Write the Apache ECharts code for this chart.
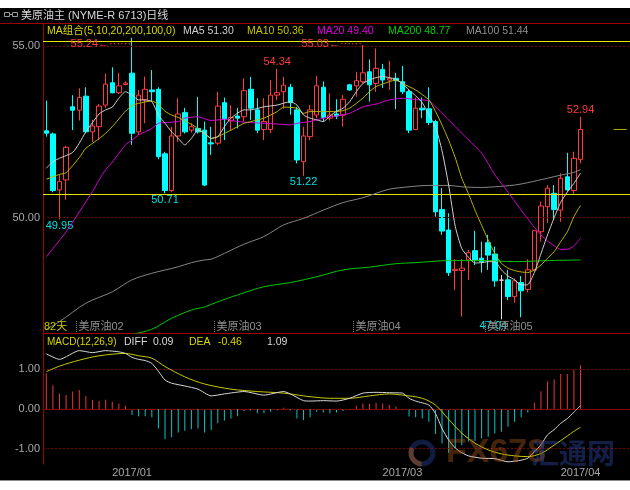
<!DOCTYPE html>
<html><head><meta charset="utf-8">
<script src="https://cdn.jsdelivr.net/npm/echarts@6/dist/echarts.min.js"></script>
<style>html,body{margin:0;padding:0;background:#fff;}#c{width:630px;height:490px;}</style>
</head><body><div id="c"></div>
<script>
// ---------- data ----------
const opens  = [52.53,52.44,50.81,51.10,53.23,53.13,53.54,52.50,52.65,53.28,
                53.93,53.64,53.88,54.21,52.50,53.43,53.72,53.74,51.86,50.79,
                52.38,53.06,52.55,52.60,52.55,52.18,52.17,53.35,52.82,52.96,
                52.94,53.74,53.14,52.57,52.57,53.57,53.67,53.80,53.14,51.63,
                52.36,52.99,53.80,52.90,53.02,52.99,53.87,53.84,53.96,54.25,
                53.91,54.32,54.01,54.06,53.96,53.67,52.57,53.19,53.17,52.80,
                50.24,49.64,48.46,48.46,48.77,49.04,48.82,49.27,48.94,48.18,
                48.19,47.70,48.11,47.91,48.48,49.59,50.32,50.71,50.22,51.19,
                50.79,51.70];
const closes = [52.46,50.79,51.05,52.05,53.13,53.50,52.50,52.67,53.25,53.89,
                53.64,53.84,53.92,52.46,53.57,53.74,53.67,51.78,50.79,52.38,
                53.02,52.50,52.65,52.50,50.95,52.15,53.25,52.87,52.92,52.90,
                53.70,53.19,52.55,52.80,53.57,53.64,53.86,53.35,51.68,52.38,
                53.14,53.84,52.92,52.99,52.96,53.45,53.72,53.99,54.22,53.87,
                54.35,54.01,54.06,53.99,53.67,52.55,53.19,53.14,52.77,50.17,
                49.61,48.40,48.50,48.53,48.98,48.77,48.72,48.91,48.16,48.18,
                47.70,48.16,47.87,48.48,49.62,50.34,50.86,50.24,51.15,50.81,
                51.73,52.57];
const lows   = [52.36,50.74,49.95,50.52,52.55,52.83,52.46,52.21,52.26,53.20,
                53.62,53.60,53.85,52.12,52.41,52.75,53.38,51.70,50.71,50.75,
                52.21,52.45,52.48,52.45,50.92,51.83,52.12,52.26,52.55,52.60,
                52.80,52.85,52.46,52.26,52.46,53.43,53.17,53.00,51.58,51.22,
                52.26,52.90,52.80,52.83,52.87,52.65,53.70,53.52,53.91,53.38,
                53.67,53.78,53.72,53.16,53.60,52.46,52.55,52.90,52.70,50.03,
                49.50,48.30,47.89,47.12,48.19,48.62,48.40,48.48,47.99,47.04,
                47.60,47.52,47.10,47.82,48.46,49.30,49.84,49.93,49.88,50.78,
                50.70,51.58];
const highs  = [53.41,52.48,51.25,52.09,53.57,53.77,53.80,52.85,53.31,54.20,
                54.38,54.22,53.97,55.24,53.72,54.11,54.30,53.80,51.92,52.65,
                53.48,53.20,52.75,53.52,52.80,52.65,53.67,53.50,53.28,53.20,
                54.06,54.10,53.48,53.48,54.01,54.34,54.10,53.90,53.23,52.65,
                53.28,54.13,53.97,53.62,53.45,53.57,53.90,54.25,55.03,54.61,
                54.93,54.48,54.57,54.22,54.42,53.72,53.50,53.50,53.80,52.85,
                50.86,50.13,48.79,48.79,49.06,49.62,49.30,49.50,49.16,48.33,
                48.48,48.23,48.30,48.79,49.64,50.47,50.95,50.95,51.29,51.89,
                51.92,52.94];

// moving averages as [candle index, value]
const ma5Pts = [[0,51.44],[1,51.63],[2,51.73],[4,51.90],[5,52.17],[6,52.50],[8,53.02],[9,53.14],[10,53.22],[11,53.48],[12,53.67],[13,53.57],[14,53.43],[15,53.43],[16,53.38],[17,52.99],[18,52.75],[19,52.50],[20,52.31],[21,52.12],[22,52.31],[23,52.55],[24,52.46],[25,52.31],[26,52.36],[27,52.65],[28,52.90],[30,53.14],[31,53.14],[33,53.23],[35,53.28],[37,53.38],[38,53.28],[39,52.99],[40,52.90],[41,52.85],[42,52.80],[43,52.96],[44,53.10],[45,53.19],[46,53.38],[47,53.67],[48,53.91],[49,54.01],[50,54.08],[51,54.11],[52,54.08],[53,54.03],[54,53.91],[55,53.72],[56,53.55],[57,53.35],[58,53.00],[59,52.65],[60,51.95],[61,50.95],[62,49.75],[63,49.10],[64,48.85],[65,48.68],[66,48.69],[67,48.72],[68,48.72],[69,48.48],[70,48.30],[71,48.19],[72,48.04],[73,48.05],[74,48.40],[75,48.95],[76,49.50],[77,50.00],[78,50.45],[79,50.75],[80,51.00],[81,51.30]];
const ma10Pts = [[0,51.12],[2,51.26],[3,51.31],[5,51.75],[6,52.02],[8,52.30],[9,52.46],[10,52.65],[12,53.10],[13,53.27],[14,53.33],[16,53.40],[17,53.30],[18,53.10],[19,52.99],[20,52.92],[22,52.72],[23,52.60],[24,52.45],[25,52.31],[26,52.36],[28,52.55],[30,52.75],[31,52.80],[33,52.90],[35,53.09],[36,53.22],[38,53.19],[39,53.04],[40,53.09],[42,53.09],[44,53.09],[45,53.12],[46,53.19],[48,53.48],[49,53.67],[50,53.82],[52,53.96],[53,54.01],[54,53.91],[56,53.72],[58,53.43],[59,53.10],[60,52.70],[61,52.26],[62,51.75],[63,51.15],[64,50.70],[65,50.22],[66,49.78],[67,49.35],[68,48.96],[69,48.67],[70,48.53],[71,48.46],[72,48.42],[73,48.40],[74,48.48],[75,48.62],[76,48.82],[77,49.01],[78,49.30],[79,49.59],[80,50.03],[81,50.36]];
const ma20Pts = [[0,48.86],[3,49.59],[7,50.76],[8,51.10],[9,51.40],[10,51.62],[12,52.12],[13,52.26],[14,52.41],[16,52.60],[17,52.75],[18,52.77],[20,52.80],[21,52.90],[23,52.94],[25,52.83],[27,52.87],[29,52.80],[31,52.77],[33,52.75],[35,52.73],[37,52.70],[38,52.75],[40,52.80],[42,52.90],[44,52.96],[46,53.04],[48,53.23],[50,53.31],[52,53.43],[54,53.48],[56,53.44],[58,53.40],[60,53.04],[61,52.85],[63,52.46],[64,52.27],[66,51.88],[67,51.58],[68,51.25],[69,51.00],[70,50.74],[71,50.48],[72,50.22],[73,49.97],[74,49.72],[75,49.50],[76,49.32],[77,49.18],[78,49.08],[79,49.08],[80,49.18],[81,49.40]];
const ma100Pts = [[0,46.75],[2,46.97],[6,47.51],[10,47.84],[13,48.19],[16,48.38],[20,48.57],[22,48.69],[24,48.77],[25,48.79],[27,48.96],[30,49.23],[33,49.45],[36,49.79],[39,49.98],[42,50.22],[45,50.44],[48,50.58],[50,50.71],[52,50.83],[55,50.90],[58,50.94],[61,50.94],[63,50.90],[66,50.88],[68,50.90],[71,50.95],[73,51.02],[76,51.15],[78,51.24],[80,51.32],[81,51.40]];
const ma200Pts = [[13,46.60],[16,46.75],[19,47.07],[22,47.31],[24,47.40],[26,47.55],[29,47.75],[33,47.99],[37,48.11],[41,48.28],[45,48.48],[49,48.56],[53,48.66],[56,48.69],[61,48.75],[66,48.75],[71,48.72],[76,48.75],[81,48.77]];

const macdHist = [0.90,0.60,0.39,0.35,0.44,0.48,0.33,0.23,0.20,0.23,
                  0.18,0.14,0.08,-0.15,-0.18,-0.18,-0.21,-0.49,-0.76,-0.71,
                  -0.59,-0.55,-0.51,-0.49,-0.59,-0.53,-0.36,-0.29,-0.24,-0.18,
                  -0.05,-0.04,-0.11,-0.11,-0.07,-0.03,0.03,-0.03,-0.24,-0.28,
                  -0.21,-0.07,-0.09,-0.11,-0.09,-0.05,-0.01,0.08,0.14,0.13,
                  0.16,0.14,0.10,0.06,-0.01,-0.19,-0.21,-0.24,-0.32,-0.63,
                  -0.87,-1.10,-1.00,-0.91,-0.82,-0.80,-0.74,-0.70,-0.62,-0.57,
                  -0.45,-0.32,-0.21,-0.09,0.16,0.45,0.69,0.75,0.88,0.88,
                  0.99,1.10];
const diffPts = [[0,1.39],[2,1.25],[5,1.47],[7,1.42],[9,1.47],[11,1.44],[12,1.40],[13,1.30],[14,1.25],[15,1.22],[16,1.15],[17,0.95],[18,0.73],[19,0.65],[21,0.58],[23,0.50],[25,0.33],[27,0.38],[30,0.44],[33,0.35],[36,0.44],[37,0.38],[39,0.21],[40,0.20],[42,0.21],[44,0.20],[46,0.27],[48,0.40],[50,0.42],[52,0.41],[54,0.40],[55,0.27],[56,0.20],[58,0.10],[59,-0.11],[60,-0.49],[61,-0.78],[62,-0.98],[63,-1.10],[64,-1.18],[66,-1.24],[68,-1.25],[70,-1.33],[72,-1.29],[73,-1.24],[74,-1.08],[75,-0.90],[76,-0.65],[77,-0.52],[78,-0.36],[79,-0.24],[80,-0.08],[81,0.09]];
const deaPts = [[0,0.94],[2,1.08],[5,1.23],[8,1.34],[12,1.40],[14,1.34],[16,1.28],[18,1.07],[21,0.81],[24,0.63],[28,0.50],[32,0.44],[36,0.40],[39,0.33],[40,0.31],[43,0.27],[46,0.27],[49,0.33],[52,0.38],[54,0.35],[57,0.27],[59,0.10],[61,-0.26],[63,-0.61],[65,-0.86],[67,-1.03],[69,-1.13],[71,-1.18],[73,-1.20],[75,-1.12],[77,-0.91],[79,-0.68],[80,-0.56],[81,-0.46]];

// tick labels / reference values
const priceTicks = [50, 55];
const macdTicks = [-1, 0, 1];
const refLines = [55.15, 50.69];
const lastPriceSpan = [86, 88];
const highMarkIdx = [13, 48, 35, 81];
const lowMarkIdx = [2, 18, 39, 69];
const dateLabelIdx = [13, 54, 81];
const dateLabelText = ['2017/01', '2017/03', '2017/04'];
const contractIdx = [5, 26, 47, 67];
const contractText = ['美原油02', '美原油03', '美原油04', '美原油05'];
const legendNames = ['MA5', 'MA10', 'MA20', 'MA200', 'MA100'];
const legendValues = [51.30, 50.36, 49.40, 48.77, 51.44];
const macdHeadValues = [0.09, -0.46, 1.09];

// ---------- chart ----------
const SLOTS = 89;
const cats = Array.from({length: SLOTS}, (_, i) => String(i));
const FF = '"Liberation Sans","Noto Sans CJK SC",sans-serif';
const RED = '#ff3c3c', CYAN = '#00ffff', GRIDRED = '#a00000', DOT = '#7a0000';
const AXT = '#a8a8a8';

const candleData = opens.map((o, i) => {
  const it = {value: [o, closes[i], lows[i], highs[i]]};
  if (o === closes[i]) it.itemStyle = {color: '#e0e0e0', color0: '#e0e0e0', borderColor: '#e0e0e0', borderColor0: '#e0e0e0', borderColorDoji: '#e0e0e0'};
  return it;
});

const markPts = [];
highMarkIdx.forEach((i, k) => {
  const t = highs[i].toFixed(2);
  if (k < 2) {
    markPts.push({coord: [i, highs[i]], label: {formatter: t + '←······', position: 'left', distance: 1, offset: [0, k === 0 ? 6 : -1], color: RED}});
  } else {
    markPts.push({coord: [i, highs[i]], label: {formatter: t, position: 'top', distance: 1, color: RED}});
  }
});
lowMarkIdx.forEach(i => {
  markPts.push({coord: [i, lows[i]], label: {formatter: lows[i].toFixed(2), position: 'bottom', distance: 1, color: '#00e0e0', offset: i === 69 ? [-8, 0] : [0, 0]}});
});

function lineSeries(data, color, xi, smooth) {
  return {type: 'line', xAxisIndex: xi, yAxisIndex: xi, data: data, symbol: 'none', smooth: smooth || false,
    lineStyle: {width: 1, color: color}, itemStyle: {color: color}, silent: true, z: 5};
}

const lastClose = closes[closes.length - 1];
const option = {
  backgroundColor: '#000',
  animation: false,
  grid: [
    {left: 43, top: 23, width: 589, height: 310},
    {left: 43, top: 334, width: 589, height: 130}
  ],
  xAxis: [
    {type: 'category', gridIndex: 0, data: cats, boundaryGap: true,
     axisLine: {show: true, lineStyle: {color: GRIDRED}}, axisTick: {show: false}, axisLabel: {show: false}, splitLine: {show: false}},
    {type: 'category', gridIndex: 1, data: cats, boundaryGap: true,
     axisLine: {show: true, lineStyle: {color: GRIDRED}}, axisTick: {show: false}, splitLine: {show: false},
     axisLabel: {show: true, interval: 0, margin: 3, color: AXT, fontSize: 11, fontFamily: FF,
       formatter: (v, i) => { const k = dateLabelIdx.indexOf(i); return k >= 0 ? dateLabelText[k] : ''; }}}
  ],
  yAxis: [
    {type: 'value', gridIndex: 0, min: 46.641, max: 55.671, position: 'left',
     axisLine: {show: true, lineStyle: {color: GRIDRED}}, axisTick: {show: false}, splitLine: {show: false},
     axisLabel: {customValues: priceTicks, formatter: v => v.toFixed(2), color: AXT, fontSize: 11, fontFamily: FF, margin: 3}},
    {type: 'value', gridIndex: 1, min: -1.385, max: 1.889, position: 'left',
     axisLine: {show: true, lineStyle: {color: GRIDRED}}, axisTick: {show: false}, splitLine: {show: false},
     axisLabel: {customValues: macdTicks, formatter: v => v.toFixed(2), color: AXT, fontSize: 11, fontFamily: FF, margin: 3}}
  ],
  series: [
    {type: 'candlestick', xAxisIndex: 0, yAxisIndex: 0, data: candleData, barWidth: 5,
     itemStyle: {color: '#000', color0: CYAN, borderColor: RED, borderColor0: CYAN, borderWidth: 1},
     markPoint: {symbol: 'circle', symbolSize: 0, silent: true,
       label: {fontSize: 11, fontFamily: FF}, data: markPts},
     markLine: {symbol: ['none', 'none'], silent: true, label: {show: false}, animation: false,
       data: [
         ...priceTicks.map(v => ({yAxis: v, lineStyle: {color: DOT, type: [2, 2], width: 1}})),
         ...refLines.map(v => ({yAxis: v, lineStyle: {color: '#e6e600', type: 'solid', width: 1}}))
       ]}},
    lineSeries(lastPriceSpan.map(i => [i, lastClose]), '#b0b000', 0, false),
    lineSeries(ma100Pts, '#858585', 0, 0.3),
    lineSeries(ma200Pts, '#00c800', 0, 0.3),
    lineSeries(ma20Pts, '#d400d4', 0, 0.2),
    lineSeries(ma10Pts, '#b8b800', 0, 0.2),
    lineSeries(ma5Pts, '#d0d0d0', 0, 0.2),
    {type: 'bar', xAxisIndex: 1, yAxisIndex: 1, data: macdHist, barWidth: 1, silent: true,
     itemStyle: {color: p => p.value >= 0 ? '#e83838' : '#00c8c8'},
     markLine: {symbol: ['none', 'none'], silent: true, label: {show: false},
       data: macdTicks.map(v => ({yAxis: v})), lineStyle: {color: DOT, type: [2, 2], width: 1}}},
    lineSeries(deaPts, '#c8c800', 1, 0.3),
    lineSeries(diffPts, '#d8d8d8', 1, 0.2)
  ]
};

const chart = echarts.init(document.getElementById('c'), null, {renderer: 'canvas', width: 630, height: 490});
chart.setOption(option);

// ---------- text decorations ----------
const font = s => s + 'px ' + FF;
const T = (x, y, text, fill, size, extra) => Object.assign({type: 'text', z: 50, silent: true,
  style: {x: x, y: y, text: text, fill: fill, font: font(size || 11), verticalAlign: 'middle', align: 'left'}}, extra || {});

const px = i => chart.convertToPixel({xAxisIndex: 0}, i);
const band = px(1) - px(0);

const g = [];
g.push({type: 'rect', z: 60, silent: true, shape: {x: 0, y: 0, width: 630, height: 8}, style: {fill: '#fff'}});
g.push({type: 'rect', z: 60, silent: true, shape: {x: 0, y: 480, width: 630, height: 10}, style: {fill: '#fff'}});
g.push({type: 'line', z: 61, silent: true, shape: {x1: 0, y1: 480.5, x2: 630, y2: 480.5}, style: {stroke: '#8a8a8a', lineWidth: 1}});
g.push({type: 'line', z: 40, silent: true, shape: {x1: 0, y1: 23.5, x2: 630, y2: 23.5}, style: {stroke: GRIDRED, lineWidth: 1}});
// title icon
g.push({type: 'rect', z: 50, silent: true, shape: {x: 4.5, y: 12.5, width: 5, height: 4}, style: {fill: 'none', stroke: '#9a9a9a', lineWidth: 1}});
g.push({type: 'rect', z: 50, silent: true, shape: {x: 12.5, y: 12.5, width: 5, height: 4}, style: {fill: 'none', stroke: '#9a9a9a', lineWidth: 1}});
g.push({type: 'line', z: 50, silent: true, shape: {x1: 9.5, y1: 14.5, x2: 12.5, y2: 14.5}, style: {stroke: '#9a9a9a', lineWidth: 1}});
g.push(T(21, 16, '美原油主 (NYME-R 6713)日线', '#d8d8d8', 11));
// MA legend
g.push(T(47, 31, 'MA组合(5,10,20,200,100,0)', '#d8d800', 10.5));
const legX = [183, 247, 317, 388, 466];
const legC = ['#cfcfcf', '#c4c400', '#e000e0', '#00d000', '#8e8e8e'];
legendNames.forEach((n, k) => g.push(T(legX[k], 31, n + ' ' + legendValues[k].toFixed(2), legC[k], 10.5)));
// MACD header
g.push(T(47, 342, 'MACD(12,26,9)', '#d8d800', 10));
g.push(T(124, 342, 'DIFF', '#d8d8d8', 10.5));
g.push(T(153, 342, macdHeadValues[0].toFixed(2), '#d8d8d8', 10.5));
g.push(T(189, 342, 'DEA', '#d8d800', 10.5));
g.push(T(218, 342, macdHeadValues[1].toFixed(2), '#d8d800', 10.5));
g.push(T(267, 342, macdHeadValues[2].toFixed(2), '#d8d8d8', 10.5));
// bottom of price pane
g.push(T(44, 327, opens.length + '天', '#c8c800', 11));
contractIdx.forEach((i, k) => {
  const x = Math.round(px(i) - band / 2) + 0.5;
  g.push({type: 'line', z: 50, silent: true, shape: {x1: x, y1: 321, x2: x, y2: 333}, style: {stroke: '#7a7a7a', lineWidth: 1, lineDash: [1, 1]}});
  g.push(T(x + 2, 327, contractText[k], '#8e8e8e', 11));
});
// watermark
g.push({type: 'circle', z: 45, silent: true, shape: {cx: 422, cy: 453, r: 11}, style: {fill: 'none', stroke: 'rgba(40,70,160,0.4)', lineWidth: 5}});
g.push({type: 'arc', z: 46, silent: true, shape: {cx: 422, cy: 453, r: 11, startAngle: 1.6, endAngle: 3.6}, style: {fill: 'none', stroke: 'rgba(190,100,30,0.45)', lineWidth: 5}});
g.push(T(446, 453, 'FX678', 'rgba(190,100,30,0.36)', 34, {z: 45}));
g.push(T(531, 453, '汇通网', 'rgba(45,75,170,0.42)', 28, {z: 45}));
g[g.length - 1].style.font = 'bold 28px "Noto Sans CJK SC",sans-serif';
g[g.length - 2].style.font = 'bold 34px "Liberation Sans",sans-serif';

chart.setOption({graphic: g});
</script>
</body></html>
